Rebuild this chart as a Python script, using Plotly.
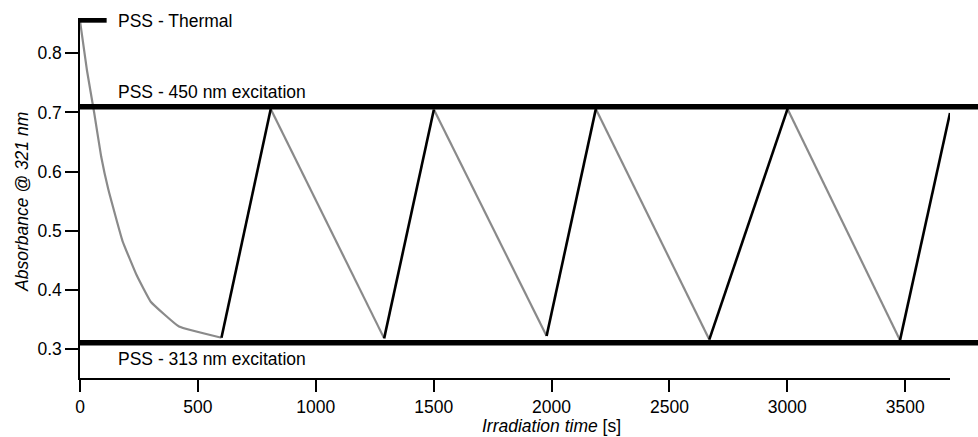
import plotly.graph_objects as go

# --- data ---
decay_t = [0, 30, 60, 90, 120, 180, 240, 300, 420, 600]
decay_a = [0.855, 0.77, 0.70, 0.625, 0.57, 0.483, 0.425, 0.38, 0.338, 0.319]

turn_t = [600, 809, 1290, 1501, 1979, 2188, 2669, 3001, 3478, 3690]
turn_a = [0.319, 0.706, 0.318, 0.705, 0.322, 0.706, 0.316, 0.706, 0.315, 0.699]

pss_labels = ["PSS - Thermal", "PSS - 450 nm excitation", "PSS - 313 nm excitation"]
pss_levels = [0.856, 0.7095, 0.3105]
thermal_bar_end = 113

x_ticks = [0, 500, 1000, 1500, 2000, 2500, 3000, 3500]
y_ticks = [0.3, 0.4, 0.5, 0.6, 0.7, 0.8]

FONT = "Liberation Sans, Arial, sans-serif"
FS = 17.5
GRAY = "#8a8a8a"

# build segments: rising (450 nm) black, falling (313 nm) gray
bx, by, gx, gy = [], [], [], []
for i in range(len(turn_t) - 1):
    seg_x = [turn_t[i], turn_t[i + 1], None]
    seg_y = [turn_a[i], turn_a[i + 1], None]
    if turn_a[i + 1] > turn_a[i]:
        bx += seg_x; by += seg_y
    else:
        gx += seg_x; gy += seg_y

fig = go.Figure()
fig.add_trace(go.Scatter(x=decay_t, y=decay_a, mode="lines", line_shape="spline",
                         line=dict(color=GRAY, width=2.2, smoothing=0.3), hoverinfo="skip"))
fig.add_trace(go.Scatter(x=gx, y=gy, mode="lines",
                         line=dict(color=GRAY, width=2.2), hoverinfo="skip"))
fig.add_trace(go.Scatter(x=bx, y=by, mode="lines",
                         line=dict(color="black", width=2.6), hoverinfo="skip"))

L, R, T, B = 80, 28, 18, 59
W, H = 978, 437
pw = W - L - R
ph = H - T - B

# PSS lines
fig.add_shape(type="line", xref="x", yref="y", x0=0, x1=thermal_bar_end,
              y0=pss_levels[0], y1=pss_levels[0], line=dict(color="black", width=5))
for lev in pss_levels[1:]:
    fig.add_shape(type="line", xref="paper", yref="y", x0=0, x1=(W - L) / pw,
                  y0=lev, y1=lev, line=dict(color="black", width=5.5))

label_x = (116 - L) / pw
label_y_px = [21.5, 91.5, 358.5]
for txt, ypx in zip(pss_labels, label_y_px):
    fig.add_annotation(text=txt, xref="paper", yref="paper",
                       x=label_x, y=(H - B - ypx) / ph, xanchor="left", yanchor="middle",
                       showarrow=False, font=dict(family=FONT, size=FS, color="black"))

# axis titles
fig.add_annotation(text="<i>Irradiation time</i> [s]", xref="paper", yref="paper",
                   x=(551 - L) / pw, y=(H - B - 426) / ph, xanchor="center", yanchor="middle",
                   showarrow=False, font=dict(family=FONT, size=FS, color="black"))
fig.add_annotation(text="<i>Absorbance @ 321 nm</i>", xref="paper", yref="paper",
                   x=(22.5 - L) / pw, y=(H - B - 202.5) / ph, xanchor="center", yanchor="middle",
                   textangle=-90, showarrow=False,
                   font=dict(family=FONT, size=FS, color="black"))

fig.update_layout(
    width=W, height=H,
    margin=dict(l=L, r=R, t=T, b=B),
    paper_bgcolor="white", plot_bgcolor="white",
    showlegend=False,
    font=dict(family=FONT, size=FS, color="black"),
    xaxis=dict(range=[0, 3690], tickvals=x_ticks, ticks="outside", ticklen=12, tickwidth=1.5,
               tickcolor="black", showline=True, linecolor="black", linewidth=1.5,
               showgrid=False, zeroline=False, tickfont=dict(family=FONT, size=FS)),
    yaxis=dict(range=[0.251, 0.8597], tickvals=y_ticks, tickformat=".1f", ticks="outside",
               ticklen=13, tickwidth=1.5, tickcolor="black", showline=True, linecolor="black",
               linewidth=1.5, showgrid=False, zeroline=False, tickfont=dict(family=FONT, size=FS)),
)

fig.write_html("out.html")
